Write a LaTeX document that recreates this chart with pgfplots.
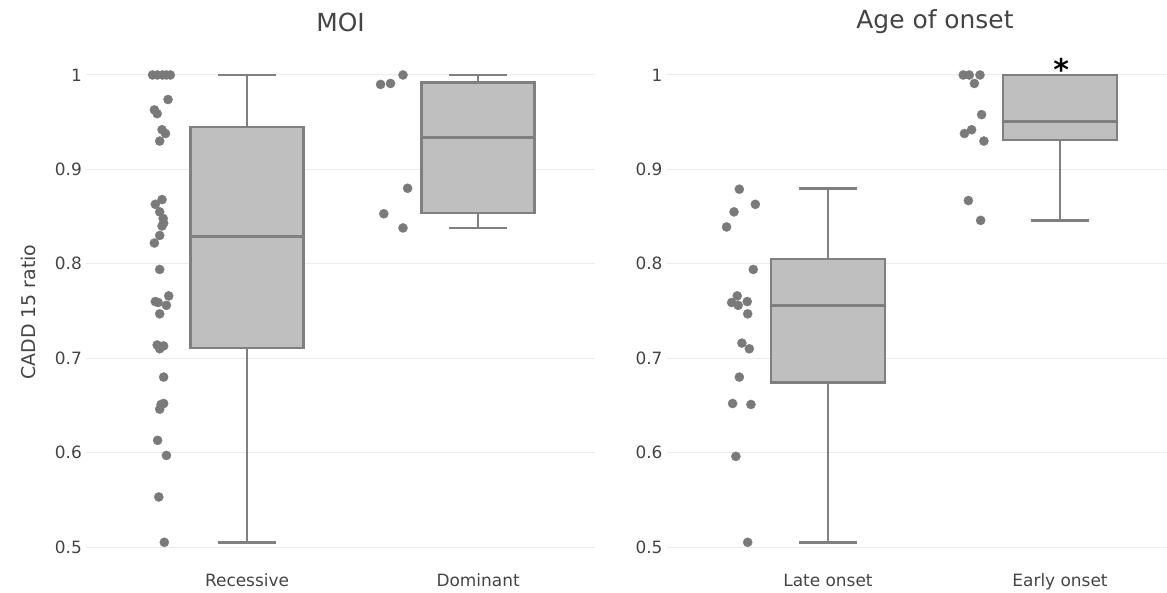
\documentclass[border=0pt]{standalone}
\usepackage{pgfplots}
\pgfplotsset{compat=1.18}
\usepackage{fontspec}
\setmainfont{DejaVu Sans}
\definecolor{linegray}{RGB}{128,128,128}
\definecolor{fillgray}{RGB}{191,191,191}
\definecolor{ptgray}{RGB}{122,122,122}
\definecolor{gridgray}{RGB}{235,235,235}
\definecolor{textgray}{RGB}{68,68,68}
\pgfplotsset{
  panel/.style={
    scale only axis, ymin=0.48, ymax=1.02, height=509.8bp,
    axis line style={draw=none}, major tick length=0pt,
    ytick={0.5,0.6,0.7,0.8,0.9,1}, yticklabels={0.5,0.6,0.7,0.8,0.9,1},
    ymajorgrids, grid style={draw=gridgray, line width=1bp},
    xtick={0,1},
    ticklabel style={font=\fontsize{17}{20}\selectfont, text=textgray},
    yticklabel style={anchor=east, inner sep=0pt, xshift=-4bp},
    xticklabel style={anchor=north, inner sep=0pt, yshift=-8bp},
    clip=false, /pgf/number format/assume math mode=true,
  },
  ln/.style={draw=linegray, line width=2.6bp, mark=none},
  bxs/.style={draw=linegray, fill=fillgray, line width=2.6bp, mark=none, line join=miter},
  pts/.style={only marks, mark=*, mark size=4.6bp, mark options={fill=ptgray, draw=ptgray, line width=0.3bp}},
}
\begin{document}
\begin{tikzpicture}
\path[use as bounding box] (0bp,0bp) rectangle (1167bp,593bp);
% Left panel: MOI
\begin{axis}[panel, at={(86bp,27.1bp)}, anchor=south west, width=509bp,
  xmin=-0.697, xmax=1.506, xticklabels={Recessive,Dominant}]
\addplot[pts] coordinates {
(-0.409,1.0) (-0.388,1.0) (-0.366,1.0) (-0.349,1.0) (-0.332,1.0)
(-0.342,0.974) (-0.401,0.963) (-0.389,0.959) (-0.368,0.942) (-0.353,0.938) (-0.378,0.930)
(-0.368,0.868) (-0.397,0.863) (-0.378,0.855) (-0.363,0.848) (-0.361,0.843) (-0.368,0.840)
(-0.378,0.830) (-0.401,0.822) (-0.378,0.794) (-0.339,0.766) (-0.397,0.760) (-0.385,0.759)
(-0.349,0.756) (-0.378,0.747) (-0.389,0.714) (-0.361,0.713) (-0.378,0.710) (-0.361,0.680)
(-0.361,0.652) (-0.372,0.651) (-0.378,0.646) (-0.387,0.613) (-0.349,0.597) (-0.382,0.553)
(-0.358,0.505)
};
\addplot[pts] coordinates {
(0.675,1.0) (0.621,0.991) (0.578,0.990) (0.695,0.880) (0.592,0.853) (0.675,0.838)
};
% Recessive box (position 0)
\addplot[ln] coordinates {(0,0.945) (0,1.0)};
\addplot[ln] coordinates {(-0.125,1.0) (0.125,1.0)};
\addplot[ln] coordinates {(0,0.711) (0,0.505)};
\addplot[ln] coordinates {(-0.125,0.505) (0.125,0.505)};
\addplot[bxs] coordinates {(-0.245,0.711) (0.245,0.711) (0.245,0.945) (-0.245,0.945)} -- cycle;
\addplot[ln] coordinates {(-0.245,0.829) (0.245,0.829)};
% Dominant box (position 1)
\addplot[ln] coordinates {(1,0.992) (1,1.0)};
\addplot[ln] coordinates {(0.875,1.0) (1.125,1.0)};
\addplot[ln] coordinates {(1,0.854) (1,0.838)};
\addplot[ln] coordinates {(0.875,0.838) (1.125,0.838)};
\addplot[bxs] coordinates {(0.755,0.854) (1.245,0.854) (1.245,0.992) (0.755,0.992)} -- cycle;
\addplot[ln] coordinates {(0.755,0.934) (1.245,0.934)};
\end{axis}
% Right panel: Age of onset
\begin{axis}[panel, at={(666.7bp,27.1bp)}, anchor=south west, width=500.3bp,
  xmin=-0.695, xmax=1.461, xticklabels={Late onset,Early onset}]
\addplot[pts] coordinates {
(-0.382,0.879) (-0.313,0.863) (-0.405,0.855) (-0.437,0.839) (-0.322,0.794) (-0.391,0.766)
(-0.348,0.760) (-0.415,0.759) (-0.387,0.756) (-0.346,0.747) (-0.371,0.716) (-0.339,0.710)
(-0.382,0.680) (-0.411,0.652) (-0.332,0.651) (-0.397,0.596) (-0.346,0.505)
};
\addplot[pts] coordinates {
(0.583,1.0) (0.609,1.0) (0.655,1.0) (0.631,0.991) (0.662,0.958) (0.619,0.942)
(0.588,0.938) (0.672,0.930) (0.605,0.867) (0.658,0.846)
};
% Late onset box (position 0)
\addplot[ln] coordinates {(0,0.805) (0,0.880)};
\addplot[ln] coordinates {(-0.125,0.880) (0.125,0.880)};
\addplot[ln] coordinates {(0,0.674) (0,0.505)};
\addplot[ln] coordinates {(-0.125,0.505) (0.125,0.505)};
\addplot[bxs] coordinates {(-0.245,0.674) (0.245,0.674) (0.245,0.805) (-0.245,0.805)} -- cycle;
\addplot[ln] coordinates {(-0.245,0.756) (0.245,0.756)};
% Early onset box (position 1)
\addplot[ln] coordinates {(1,0.931) (1,0.846)};
\addplot[ln] coordinates {(0.875,0.846) (1.125,0.846)};
\addplot[bxs] coordinates {(0.755,0.931) (1.245,0.931) (1.245,1.0) (0.755,1.0)} -- cycle;
\addplot[ln] coordinates {(0.755,0.951) (1.245,0.951)};
\node[anchor=base, inner sep=0pt, text=black, font=\fontsize{30}{30}\selectfont\bfseries] at (axis cs:1.005,0.994) {*};
\end{axis}
\node[text=textgray, font=\fontsize{25}{28}\selectfont] at (340.5bp,571bp) {MOI};
\node[text=textgray, font=\fontsize{25}{28}\selectfont] at (935bp,571bp) {Age of onset};
\node[text=textgray, rotate=90, font=\fontsize{19}{22}\selectfont] at (28bp,281bp) {CADD 15 ratio};
\end{tikzpicture}
\end{document}
